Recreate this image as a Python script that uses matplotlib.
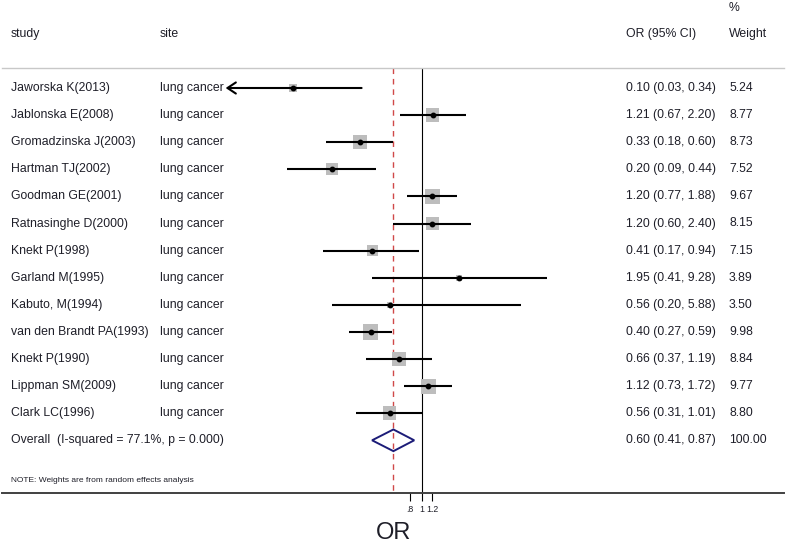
import numpy as np
import matplotlib
matplotlib.use('Agg')
import matplotlib.pyplot as plt
from matplotlib.patches import Polygon
from matplotlib.transforms import blended_transform_factory

plt.rcParams['font.family'] = ['Liberation Sans', 'DejaVu Sans']

# dados
studies = ['Jaworska K(2013)', 'Jablonska E(2008)', 'Gromadzinska J(2003)',
           'Hartman TJ(2002)', 'Goodman GE(2001)', 'Ratnasinghe D(2000)',
           'Knekt P(1998)', 'Garland M(1995)', 'Kabuto, M(1994)',
           'van den Brandt PA(1993)', 'Knekt P(1990)', 'Lippman SM(2009)',
           'Clark LC(1996)']
site = ['lung cancer'] * len(studies)
odds = [0.10, 1.21, 0.33, 0.20, 1.20, 1.20, 0.41, 1.95, 0.56, 0.40, 0.66, 1.12, 0.56]
ci_lo = [0.03, 0.67, 0.18, 0.09, 0.77, 0.60, 0.17, 0.41, 0.20, 0.27, 0.37, 0.73, 0.31]
ci_hi = [0.34, 2.20, 0.60, 0.44, 1.88, 2.40, 0.94, 9.28, 5.88, 0.59, 1.19, 1.72, 1.01]
weights = [5.24, 8.77, 8.73, 7.52, 9.67, 8.15, 7.15, 3.89, 3.50, 9.98, 8.84, 9.77, 8.80]

overall_label = 'Overall  (I-squared = 77.1%, p = 0.000)'
overall_or, overall_lo, overall_hi = 0.60, 0.41, 0.87
overall_weight = 100.00

xticks = [0.8, 1, 1.2]
xtick_labels = ['.8', '1', '1.2']
clip_lo = 0.05  # abaixo disso desenha seta

txt_color = '#1e1e28'
fs = 8.8

fig = plt.figure(figsize=(7.87, 5.46), dpi=100)
ax = fig.add_axes([0, 0, 1, 1])
ax.set_xscale('log')
px_per_ln = 56.0
x_one = 422.0
ax.set_xlim(np.exp(-x_one / px_per_ln), np.exp((787 - x_one) / px_per_ln))
row_h = 27.1
row0 = 88.0
ax.set_ylim((546 - row0) / row_h, -row0 / row_h)

n = len(studies)
rows = np.arange(n)
y_over = n
y_top = (68 - row0) / row_h
y_axis = (493 - row0) / row_h

# linhas de referencia
ax.vlines(1, y_top, y_axis, color='black', lw=0.8, zorder=1)
ax.vlines(overall_or, y_top, y_axis, color='#d04848', lw=1.0,
          linestyles=(0, (4, 3.5)), zorder=1)
ax.axhline(y_top, color='#c8c8c8', lw=1.0, xmin=0.003, xmax=0.996)

# quadrados dos pesos
sizes = (1.12 * np.array(weights)) ** 2
ax.scatter(odds, rows, s=sizes, marker='s', color='#bdbdbd', lw=0, zorder=2)

# intervalos de confianca
for i in range(n):
    if ci_lo[i] < clip_lo:
        ax.annotate('', xy=(ci_lo[i], i), xytext=(ci_hi[i], i),
                    arrowprops=dict(arrowstyle='->,head_length=0.6,head_width=0.4',
                                    color='black', lw=1.5, shrinkA=0, shrinkB=0),
                    zorder=3)
    else:
        ax.hlines(i, ci_lo[i], ci_hi[i], color='black', lw=1.5, zorder=3)
ax.plot(odds, rows, 'o', color='black', ms=3.2, zorder=4)

# diamante do efeito global
dh = 0.4
diamond = Polygon([(overall_lo, y_over), (overall_or, y_over - dh),
                   (overall_hi, y_over), (overall_or, y_over + dh)],
                  closed=True, fill=False, edgecolor='#1c1c78', lw=1.4, zorder=3)
ax.add_patch(diamond)

# colunas de texto
tr = blended_transform_factory(ax.transAxes, ax.transData)
x_study, x_site, x_ci, x_w = 11 / 787, 160 / 787, 626 / 787, 729 / 787
y_head = (34 - row0) / row_h
y_pct = (8 - row0) / row_h
ax.text(x_study, y_head, 'study', transform=tr, fontsize=fs, va='center', color=txt_color)
ax.text(x_site, y_head, 'site', transform=tr, fontsize=fs, va='center', color=txt_color)
ax.text(x_ci, y_head, 'OR (95% CI)', transform=tr, fontsize=fs, va='center', color=txt_color)
ax.text(x_w, y_pct, '%', transform=tr, fontsize=fs, va='center', color=txt_color)
ax.text(x_w, y_head, 'Weight', transform=tr, fontsize=fs, va='center', color=txt_color)

for i in range(n):
    ax.text(x_study, i, studies[i], transform=tr, fontsize=fs, va='center', color=txt_color)
    ax.text(x_site, i, site[i], transform=tr, fontsize=fs, va='center', color=txt_color)
    ax.text(x_ci, i, f'{odds[i]:.2f} ({ci_lo[i]:.2f}, {ci_hi[i]:.2f})', transform=tr,
            fontsize=fs, va='center', color=txt_color)
    ax.text(x_w, i, f'{weights[i]:.2f}', transform=tr, fontsize=fs, va='center', color=txt_color)

ax.text(x_study, y_over, overall_label, transform=tr, fontsize=fs, va='center', color=txt_color)
ax.text(x_ci, y_over, f'{overall_or:.2f} ({overall_lo:.2f}, {overall_hi:.2f})', transform=tr,
        fontsize=fs, va='center', color=txt_color)
ax.text(x_w, y_over, f'{overall_weight:.2f}', transform=tr, fontsize=fs, va='center', color=txt_color)

y_note = (480 - row0) / row_h
ax.text(x_study, y_note, 'NOTE: Weights are from random effects analysis', transform=tr,
        fontsize=6, va='center', color=txt_color)

# eixo x
for s in ['left', 'right', 'top']:
    ax.spines[s].set_visible(False)
ax.spines['bottom'].set_position(('data', y_axis))
ax.spines['bottom'].set_color('#404040')
ax.spines['bottom'].set_linewidth(1.4)
ax.spines['bottom'].set_bounds(np.exp((2 - x_one) / px_per_ln), np.exp((784 - x_one) / px_per_ln))
ax.set_xticks(xticks)
ax.set_xticklabels(xtick_labels)
ax.xaxis.set_minor_locator(matplotlib.ticker.NullLocator())
ax.tick_params(axis='x', direction='out', length=6, width=0.8, labelsize=6.3,
               pad=3, labelcolor=txt_color)
ax.set_yticks([])

fig.text(0.5, 1 - 533 / 546, 'OR', ha='center', va='center', fontsize=17, color=txt_color)

fig.savefig('out.png', dpi=100)
